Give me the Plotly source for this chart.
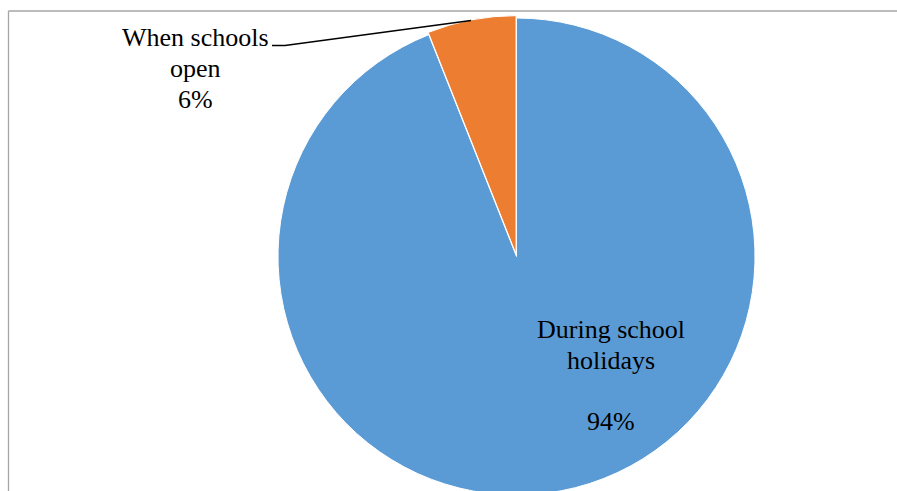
import plotly.graph_objects as go

# Share of trips by period
categories = ["During school holidays", "When schools open"]
shares = [94, 6]
slice_colors = ["#5B9BD5", "#ED7D31"]

# label line breaks for each category
label_lines = [["During school", "holidays"], ["When schools", "open"]]

W, H = 897, 498
FONT = "Liberation Serif, Times New Roman, serif"
FS = 26


def px(x):
    return x / W


def py(y):
    return 1 - y / H


fig = go.Figure()
fig.add_trace(go.Pie(
    labels=categories,
    values=shares,
    sort=False,
    direction="clockwise",
    rotation=0,
    pull=[0, 0.01],
    marker=dict(colors=slice_colors, line=dict(color="white", width=1)),
    textinfo="none",
    hoverinfo="label+percent",
    showlegend=False,
    domain=dict(x=[px(275.6), px(757.4)], y=[py(497.4), py(15.6)]),
))

annotations = []


def add_block(lines, cx, baselines):
    for text, b in zip(lines, baselines):
        annotations.append(dict(
            x=px(cx), y=py(b - 0.32 * FS), xref="paper", yref="paper",
            text=text, showarrow=False, xanchor="center", yanchor="middle",
            font=dict(family=FONT, size=FS, color="black"),
        ))


# large slice label inside the pie
add_block(label_lines[0] + [f"{shares[0]}%"], 611, [338, 369, 430])
# small slice label outside, with leader line
add_block(label_lines[1] + [f"{shares[1]}%"], 195, [46, 77, 108])

shapes = [
    # chart frame (top and left edges)
    dict(type="line", xref="paper", yref="paper", x0=px(8.5), x1=1, y0=py(11), y1=py(11),
         line=dict(color="#A6A6A6", width=1.3)),
    dict(type="line", xref="paper", yref="paper", x0=px(8.5), x1=px(8.5), y0=py(11), y1=0,
         line=dict(color="#A6A6A6", width=1.3)),
    # leader line for the small slice label
    dict(type="path", xref="paper", yref="paper",
         path=f"M {px(272)} {py(45.5)} L {px(285)} {py(45.5)} L {px(471)} {py(20.5)}",
         line=dict(color="black", width=1.3)),
]

fig.update_layout(
    width=W, height=H,
    margin=dict(l=0, r=0, t=0, b=0),
    paper_bgcolor="white",
    plot_bgcolor="white",
    annotations=annotations,
    shapes=shapes,
)

fig.write_html("out.html", post_script="document.body.style.overflow='hidden';document.documentElement.style.overflow='hidden';")
